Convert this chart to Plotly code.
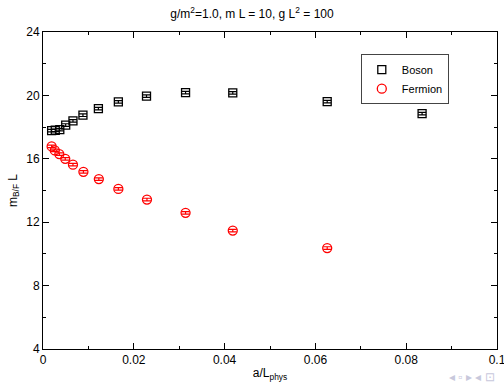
import plotly.graph_objects as go

x_vals = [0.0019, 0.0027, 0.0037, 0.0050, 0.0066, 0.0088, 0.0122, 0.0166, 0.0228, 0.0314, 0.0418, 0.0626, 0.0835]
boson = [17.78, 17.80, 17.84, 18.13, 18.39, 18.75, 19.17, 19.59, 19.95, 20.18, 20.16, 19.61, 18.85]
boson_err = [0.08] * len(boson)
fermion_x = [0.0019, 0.0026, 0.0036, 0.0049, 0.0066, 0.0089, 0.0123, 0.0166, 0.0229, 0.0314, 0.0418, 0.0626]
fermion = [16.78, 16.53, 16.30, 16.00, 15.63, 15.18, 14.72, 14.10, 13.43, 12.59, 11.47, 10.37]
fermion_err = [0.08] * len(fermion)

fig = go.Figure()
fig.add_trace(go.Scatter(
    x=x_vals, y=boson, mode="markers", name="Boson",
    marker=dict(symbol="square-open", size=8, color="black", line=dict(width=1.3)),
    error_y=dict(type="data", array=boson_err, color="black", thickness=1.2, width=4),
))
fig.add_trace(go.Scatter(
    x=fermion_x, y=fermion, mode="markers", name="Fermion",
    marker=dict(symbol="circle-open", size=9, color="red", line=dict(width=1.3)),
    error_y=dict(type="data", array=fermion_err, color="red", thickness=1.2, width=4),
))

axis_common = dict(
    showgrid=False, zeroline=False, showline=True, linecolor="black", linewidth=1,
    mirror="allticks", ticks="inside", ticklen=6, tickcolor="black",
    tickfont=dict(family="Liberation Sans, Arial", size=12, color="black"),
    ticklabeloverflow="allow",
)
fig.update_xaxes(
    range=[0, 0.1], tickvals=[0, 0.02, 0.04, 0.06, 0.08, 0.1],
    ticktext=["0", "0.02", "0.04", "0.06", "0.08", "0.1"],
    minor=dict(ticks="inside", ticklen=3, dtick=0.01, tickcolor="black"),
    title=dict(text="a/L<sub>phys</sub>", font=dict(family="Liberation Sans, Arial", size=12, color="black"), standoff=2),
    **axis_common,
)
fig.update_yaxes(
    range=[4, 24], tickvals=[4, 8, 12, 16, 20, 24],
    minor=dict(ticks="inside", ticklen=3, dtick=2, tickcolor="black"),
    title=dict(text="m<sub>B/F</sub> L", font=dict(family="Liberation Sans, Arial", size=12, color="black"), standoff=6),
    **axis_common,
)

fig.update_layout(
    width=504, height=384,
    margin=dict(l=43, r=7, t=32, b=35, autoexpand=False),
    paper_bgcolor="white", plot_bgcolor="white",
    font=dict(family="Liberation Sans, Arial", size=12, color="black"),
    title=dict(text="g/m<sup>2</sup>=1.0, m L = 10, g L<sup>2</sup> = 100",
               x=0.5, xanchor="center", y=0.965, yanchor="middle",
               font=dict(family="Liberation Sans, Arial", size=12, color="black")),
    showlegend=True,
    legend=dict(x=0.70, y=0.93, xanchor="left", yanchor="top",
                bordercolor="#444", borderwidth=1, bgcolor="white",
                font=dict(family="Liberation Sans, Arial", size=11, color="black"),
                tracegroupgap=0),
)
fig.add_annotation(text="◂ ▫ ▸ ◂ ⊡", xref="paper", yref="paper", x=1.0, y=-0.06,
                   xanchor="right", yanchor="top", showarrow=False,
                   font=dict(size=12, color="#c8c8dc"))

fig.write_html("out.html", config={"displayModeBar": False},
               post_script="document.body.style.margin='0';")
